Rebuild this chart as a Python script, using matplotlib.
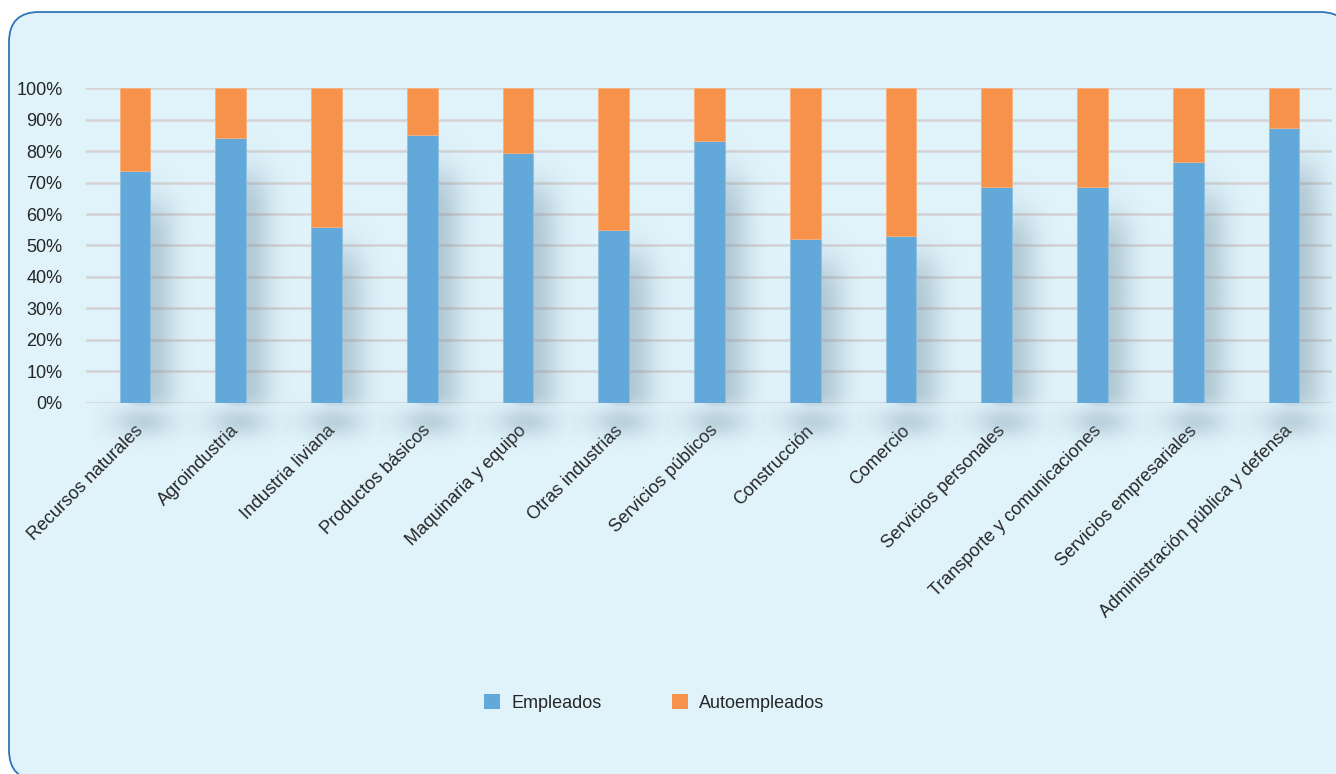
import numpy as np
import matplotlib
matplotlib.use("Agg")
import matplotlib.pyplot as plt
from matplotlib import font_manager
from matplotlib.patches import FancyBboxPatch, Patch
from matplotlib.transforms import IdentityTransform

# data (share of workers, %)
categorias = [
    "Recursos naturales", "Agroindustria", "Industria liviana", "Productos básicos",
    "Maquinaria y equipo", "Otras industrias", "Servicios públicos", "Construcción",
    "Comercio", "Servicios personales", "Transporte y comunicaciones",
    "Servicios empresariales", "Administración pública y defensa",
]
empleados = [73.6, 84.3, 56.0, 85.2, 79.4, 55.0, 83.3, 52.1, 53.1, 68.7, 68.7, 76.5, 87.2]
autoempleados = [100 - v for v in empleados]
yticks = list(range(0, 101, 10))

BLUE = "#62A8D8"
ORANGE = "#F6924A"
BG = "#E0F3FB"
TXT = "#262626"

names = {f.name for f in font_manager.fontManager.ttflist}
if "Liberation Sans Narrow" in names:
    FONT, FS = "Liberation Sans Narrow", 15.5
else:
    FONT, FS = "Liberation Sans", 13
plt.rcParams["font.family"] = [FONT, "DejaVu Sans"]

fig = plt.figure(figsize=(13.36, 7.74), dpi=100)
fig.patch.set_facecolor("white")

# rounded light-blue panel behind everything
panel = FancyBboxPatch((9, -6), 1341, 768, boxstyle="round,pad=0,rounding_size=30",
                       transform=IdentityTransform(), facecolor=BG,
                       edgecolor="#2E75B6", linewidth=1.3, zorder=-5)
fig.patches.append(panel)

ax = fig.add_axes([0.0644, 0.4797, 0.9326, 0.4063])
ax.set_facecolor("none")
ax.set_zorder(2)

x = np.arange(len(categorias))


def soft(t):
    return 0.5 * (1 + np.tanh(t))


# soft shadows next to / below each blue segment
shadow_rgb = np.array([0.40, 0.52, 0.59])
for xi, h in zip(x, empleados):
    xs = np.linspace(xi - 0.45, xi + 0.9, 200)
    ys = np.linspace(-20, 100, 320)
    X, Y = np.meshgrid(xs, ys)
    side = (soft((X - (xi - 0.05)) / 0.08) * soft(((xi + 0.36) - X) / 0.16)
            * soft((Y + 1) / 2.5) * soft((0.86 * h - Y) / 7.0)) * 0.42
    blob = np.exp(-((X - (xi + 0.08)) / 0.32) ** 2 - ((Y + 6.0) / 5.0) ** 2) * 0.3
    a = np.clip(np.maximum(side, blob), 0, 1)
    img = np.zeros(X.shape + (4,))
    img[..., :3] = shadow_rgb
    img[..., 3] = a
    ax.imshow(img, extent=(xs[0], xs[-1], ys[0], ys[-1]), origin="lower",
              aspect="auto", zorder=1, clip_on=False, interpolation="bilinear")

ax.bar(x, empleados, width=0.32, color=BLUE, edgecolor="#8CC0E4", linewidth=0.6,
       zorder=3, label="Empleados")
ax.bar(x, autoempleados, width=0.32, bottom=empleados, color=ORANGE,
       edgecolor="#F8B07E", linewidth=0.6, zorder=3, label="Autoempleados")

ax.set_xlim(-0.51, 12.5)
ax.set_ylim(0, 100)
ax.set_yticks(yticks, [f"{v}%" for v in yticks])
ax.yaxis.grid(True, color="#D3D3D3", linewidth=1.8, zorder=0.5)
ax.set_axisbelow(True)
for s in ax.spines.values():
    s.set_visible(False)
ax.tick_params(axis="both", length=0, labelsize=FS, colors=TXT)
ax.tick_params(axis="y", pad=17)
ax.set_xticks(x, categorias, rotation=45, ha="right", rotation_mode="anchor")
ax.tick_params(axis="x", pad=14)

handles = [Patch(facecolor=BLUE, label="Empleados"),
           Patch(facecolor=ORANGE, label="Autoempleados")]
fig.legend(handles=handles, loc="center", bbox_to_anchor=(0.4895, 0.092), ncol=2,
           frameon=False, fontsize=FS, handlelength=0.9, handleheight=0.9,
           handletextpad=0.6, columnspacing=3.9, labelcolor=TXT)

fig.savefig("out.png", dpi=100)
